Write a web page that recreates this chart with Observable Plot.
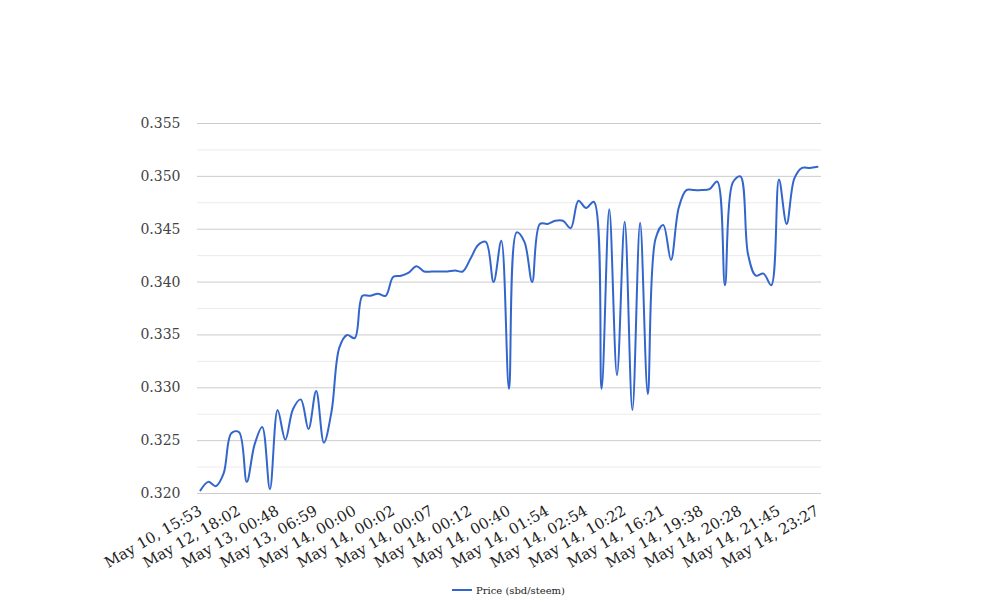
<!DOCTYPE html>
<html>
<head>
<meta charset="utf-8">
<script src="https://cdn.jsdelivr.net/npm/d3@7"></script>
<script src="https://cdn.jsdelivr.net/npm/@observablehq/plot@0.6"></script>
<style>
  body { margin: 0; background: #fff; font-family: "DejaVu Serif", serif; }
  #legend { display: flex; justify-content: center; align-items: center; gap: 4px; font-size: 10px; color: #222; height: 20px; padding-left: 9px; }
  #legend .sw { width: 20px; height: 2px; background: #3366cc; }
</style>
</head>
<body>
<div id="chart"></div>
<div id="legend"><span class="sw"></span><span id="legend-label"></span></div>
<script>
const seriesName = "Price (sbd/steem)";
const tickLabels = [
  "May 10, 15:53", "May 12, 18:02", "May 13, 00:48", "May 13, 06:59",
  "May 14, 00:00", "May 14, 00:02", "May 14, 00:07", "May 14, 00:12",
  "May 14, 00:40", "May 14, 01:54", "May 14, 02:54", "May 14, 10:22",
  "May 14, 16:21", "May 14, 19:38", "May 14, 20:28", "May 14, 21:45",
  "May 14, 23:27"
];
const pointsPerLabel = 5;
const prices = [
  0.3203, 0.3211, 0.3207, 0.3219, 0.3257, 0.3258, 0.3211, 0.3246, 0.3263, 0.3204,
  0.3279, 0.3251, 0.3280, 0.3289, 0.3261, 0.3297, 0.3248, 0.3278, 0.3338, 0.3350,
  0.3347, 0.3387, 0.3387, 0.3389, 0.3387, 0.3405, 0.3406, 0.3409, 0.3415, 0.3410,
  0.3410, 0.3410, 0.3410, 0.3411, 0.3410, 0.3422, 0.3435, 0.3438, 0.3400, 0.3439,
  0.3299, 0.3447, 0.3438, 0.3400, 0.3455, 0.3455, 0.3458, 0.3458, 0.3451, 0.3477,
  0.3470, 0.3476, 0.3299, 0.3469, 0.3312, 0.3457, 0.3279, 0.3456, 0.3294, 0.3441,
  0.3454, 0.3421, 0.3470, 0.3487, 0.3487, 0.3487, 0.3488, 0.3495, 0.3397, 0.3494,
  0.3500, 0.3426, 0.3406, 0.3408, 0.3397, 0.3497, 0.3455, 0.3498, 0.3508, 0.3508,
  0.3509
];
const yMajor = [0.320, 0.325, 0.330, 0.335, 0.340, 0.345, 0.350, 0.355];
const yMinor = [0.3225, 0.3275, 0.3325, 0.3375, 0.3425, 0.3475, 0.3525];

const data = prices.map((v, i) => ({i, v}));
const tickIdx = tickLabels.map((_, k) => k * pointsPerLabel);

document.getElementById("legend-label").textContent = seriesName;

const chart = Plot.plot({
  width: 1008,
  height: 580,
  marginLeft: 197,
  marginRight: 187,
  marginTop: 123,
  marginBottom: 87,
  style: {fontFamily: "DejaVu Serif, serif", background: "#fff"},
  x: {domain: [0, prices.length - 1], insetLeft: 3, insetRight: 4},
  y: {domain: [0.320, 0.355]},
  marks: [
    Plot.ruleY(yMinor, {stroke: "#ebebeb", strokeWidth: 1}),
    Plot.ruleY(yMajor, {stroke: "#cccccc", strokeWidth: 1}),
    Plot.axisY({ticks: yMajor, tickSize: 0, tickPadding: 17, tickFormat: d3.format(".3f"),
      fontSize: 14, fill: "#444", label: null}),
    Plot.axisX({ticks: tickIdx, tickSize: 0, tickPadding: 16, tickRotate: -30,
      tickFormat: (d) => tickLabels[d / pointsPerLabel], fontSize: 15, fill: "#222", label: null}),
    Plot.line(data, {x: "i", y: "v", stroke: "#3366cc", strokeWidth: 2, curve: "catmull-rom"})
  ]
});
document.getElementById("chart").appendChild(chart);
</script>
</body>
</html>
